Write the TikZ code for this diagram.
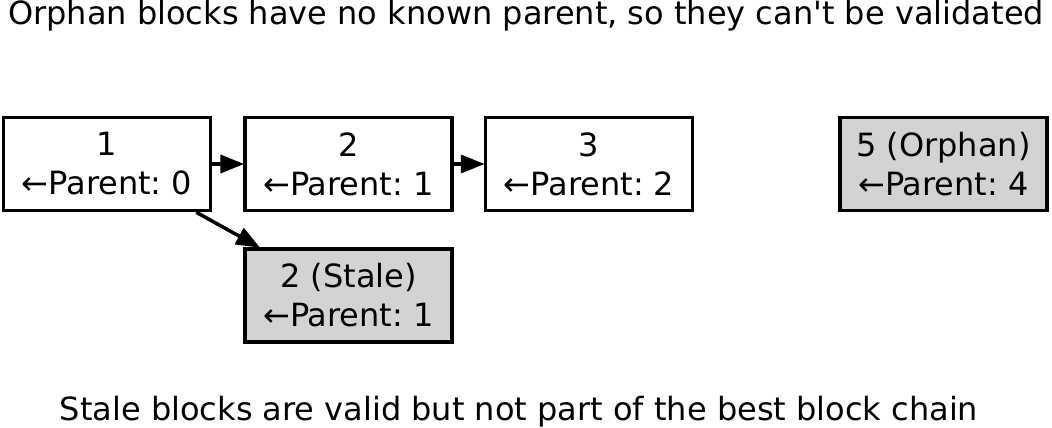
\documentclass[tikz,border=0pt]{standalone}
\usepackage{fontspec}
\setmainfont{DejaVu Sans}
\usetikzlibrary{arrows.meta,calc}
\definecolor{boxgrey}{gray}{0.827}
\frenchspacing
\begin{document}
\begin{tikzpicture}[x=1pt,y=-1pt,
  blk/.style={draw=black,line width=3.5pt,minimum width=207pt,minimum height=93pt,
    inner sep=0pt,align=center,font=\fontsize{32pt}{39pt}\selectfont\frenchspacing,fill=white},
  grey/.style={fill=boxgrey},
  lbl/.style={font=\fontsize{32pt}{38pt}\selectfont\frenchspacing,anchor=base,inner sep=0pt},
  conn/.style={line width=3.5pt,-{Triangle[length=24pt,width=18pt]},shorten >=-1pt}]
\useasboundingbox (0,0) rectangle (1052,428);
\fill[white] (0,0) rectangle (1052,428);
\node[lbl] (title) at (526,25) {Orphan blocks have no known parent, so they can\textquotesingle t be validated};
\node[lbl] (foot) at (519,420) {Stale blocks are valid but not part of the best block chain};
\node[blk] (b1) at (107,164) {1\\←Parent: 0};
\node[blk] (b2) at (348.5,164) {2\\←Parent: 1};
\node[blk] (b3) at (589,164) {3\\←Parent: 2};
\node[blk,grey] (b5) at (943.5,164) {5 (Orphan)\\←Parent: 4};
\node[blk,grey] (s) at (348.5,295.5) {2 (Stale)\\←Parent: 1};
\draw[conn] (b1.east) -- (b2.west);
\draw[conn] (b2.east) -- (b3.west);
\draw[conn] ($(b1.south east)+(-16,0)$) -- ($(s.north west)+(16,0)$);
\end{tikzpicture}
\end{document}
